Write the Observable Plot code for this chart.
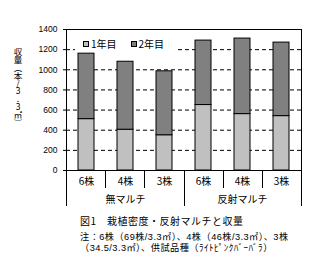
<!DOCTYPE html>
<html><head><meta charset="utf-8">
<script src="https://cdn.jsdelivr.net/npm/d3@7"></script>
<script src="https://cdn.jsdelivr.net/npm/@observablehq/plot@0.6"></script>
<style>
body{margin:0;background:#fff;}
#wrap{position:relative;width:328px;height:266px;overflow:hidden;font-family:"Noto Sans CJK JP",sans-serif;color:#000;}
#ylab{position:absolute;left:12px;top:48px;writing-mode:vertical-rl;text-orientation:upright;font-size:8.5px;line-height:12px;letter-spacing:-0.7px;}
#legend{position:absolute;left:75px;top:36px;width:101px;height:16px;background:#fff;font-size:10px;line-height:16px;white-space:nowrap;}
#legend .sw{display:inline-block;width:4px;height:4px;border:1px solid #000;vertical-align:middle;margin:0 2px 0 0;position:relative;top:-1px;}
.cap{position:absolute;left:80px;white-space:nowrap;}
.note{font-family:"Liberation Sans","Noto Sans CJK JP",sans-serif;font-size:9.2px;line-height:10.5px;letter-spacing:0.45px;}
</style></head>
<body><div id="wrap">
<div id="chart"></div>
<div id="ylab">収量（本/3.3㎡）</div>
<div id="legend"></div>
<div class="cap" id="c1" style="top:214px;font-size:10px;line-height:13px;letter-spacing:0.5px;"></div>
<div class="cap note" id="c2" style="top:232px;"></div>
</div>
<script>
const groups = ["無マルチ", "反射マルチ"];
const plants = ["6株", "4株", "3株"];
const years = ["1年目", "2年目"];
const year1 = [510, 405, 350, 650, 560, 540];
const year2 = [650, 675, 635, 640, 750, 730];
const yTickCount = 7;
const gridValues = [200, 400, 600, 800, 1000, 1200];
const yearColors = ["#c0c0c0", "#808080"];
const captionTitle = "図1　栽植密度・反射マルチと収量";
const noteLines = ["注：6株（69株/3.3㎡）、4株（46株/3.3㎡）、3株", "（34.5/3.3㎡）、供試品種（ﾗｲﾄﾋﾟﾝｸﾊﾞｰﾊﾞﾗ）"];

const keys = [];
groups.forEach(g => plants.forEach(p => keys.push(g + "|" + p)));
const rows = [];
keys.forEach((k, i) => {
  rows.push({key: k, year: years[0], value: year1[i]});
  rows.push({key: k, year: years[1], value: year2[i]});
});
const catRows = keys.map(k => ({key: k, label: k.split("|")[1]}));
const groupRows = groups.map(g => ({key: g + "|" + plants[1], label: g}));

function tableLines() {
  const dim = Array.from(arguments).find(a => a && typeof a === "object" && "marginLeft" in a);
  const x0 = dim.marginLeft, x1 = dim.width - dim.marginRight, yb = dim.height - dim.marginBottom;
  const n = keys.length, step = (x1 - x0) / n, per = plants.length;
  const g = d3.create("svg:g").attr("stroke", "black").attr("stroke-width", 1);
  for (let i = 0; i <= n; i++) {
    const xx = Math.round(x0 + i * step) + 0.5;
    g.append("line").attr("x1", xx).attr("x2", xx).attr("y1", yb).attr("y2", yb + (i % per === 0 ? 36 : 18));
  }
  return g.node();
}

const chart = Plot.plot({
  width: 328, height: 212,
  marginLeft: 66, marginRight: 27, marginTop: 29, marginBottom: 42,
  style: {fontSize: "8.5px", fontFamily: "'Liberation Sans', Arial, sans-serif", background: "#fff", overflow: "visible"},
  x: {domain: keys, paddingInner: 0.58, paddingOuter: 0.29, axis: null},
  y: {domain: [0, 1400], ticks: yTickCount, tickSize: 3, tickPadding: 6, tickFormat: d => String(d), label: null},
  color: {domain: years, range: yearColors},
  marks: [
    Plot.ruleY(gridValues, {stroke: "black", strokeDasharray: "4,3", strokeWidth: 1}),
    Plot.barY(rows, {x: "key", y: "value", fill: "year", stroke: "black", strokeWidth: 1}),
    Plot.frame({stroke: "black", strokeWidth: 1}),
    Plot.text(catRows, {x: "key", text: "label", frameAnchor: "bottom", dy: 14, fontSize: 10, fontFamily: "Noto Sans CJK JP"}),
    Plot.text(groupRows, {x: "key", text: "label", frameAnchor: "bottom", dy: 32, fontSize: 10, fontFamily: "Noto Sans CJK JP"}),
    tableLines
  ]
});
document.getElementById("chart").appendChild(chart);

const leg = document.getElementById("legend");
years.forEach((y, i) => {
  const s = document.createElement("span");
  s.style.marginLeft = i === 0 ? "8px" : "14px";
  s.innerHTML = `<span class="sw" style="background:${yearColors[i]}"></span>${y}`;
  leg.appendChild(s);
});
document.getElementById("c1").textContent = captionTitle;
const c2 = document.getElementById("c2");
noteLines.forEach((t, i) => {
  if (i) c2.appendChild(document.createElement("br"));
  c2.appendChild(document.createTextNode(t));
});
</script>
</body></html>
